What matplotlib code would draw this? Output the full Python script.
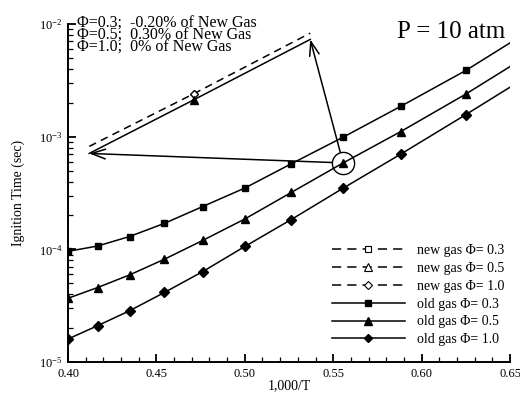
import numpy as np
import matplotlib
matplotlib.use('Agg')
import matplotlib.pyplot as plt
from matplotlib.lines import Line2D
from matplotlib.ticker import MultipleLocator, LogLocator, LogFormatterMathtext

plt.rcParams['font.family'] = ['Liberation Serif', 'DejaVu Serif']
plt.rcParams['mathtext.fontset'] = 'stix'

# 1000/T and ignition times (sec), old gas
inv_T = [0.400, 0.4167, 0.4348, 0.4545, 0.4762, 0.500, 0.5263, 0.5556, 0.5882, 0.625, 0.650]
old_03 = [9.6e-5, 1.07e-4, 1.30e-4, 1.70e-4, 2.40e-4, 3.50e-4, 5.75e-4, 9.9e-4, 1.86e-3, 3.87e-3, 6.8e-3]
old_05 = [3.68e-5, 4.58e-5, 5.93e-5, 8.17e-5, 1.20e-4, 1.86e-4, 3.2e-4, 5.85e-4, 1.11e-3, 2.39e-3, 4.19e-3]
old_10 = [1.60e-5, 2.10e-5, 2.85e-5, 4.14e-5, 6.35e-5, 1.06e-4, 1.84e-4, 3.49e-4, 7.0e-4, 1.57e-3, 2.75e-3]

# magnified view of the circled point (phi = 0.5)
inset_x = [0.412, 0.471, 0.537]
inset_new = [8.2e-4, 2.4e-3, 8.3e-3]
inset_old = [7.1e-4, 2.12e-3, 7.3e-3]
circled = (0.5556, 5.85e-4)

notes = ['Φ=0.3;  -0.20% of New Gas',
         'Φ=0.5;  0.30% of New Gas',
         'Φ=1.0;  0% of New Gas']
phis = ['0.3', '0.5', '1.0']
markers = ['s', '^', 'D']
msizes = [5, 6, 4.6]

fig = plt.figure(figsize=(5.2, 3.99), dpi=100)
ax = fig.add_axes([0.1308, 0.0927, 0.85, 0.8471])

lw = 1.1
marks = list(range(len(inv_T) - 1))
for y, m, ms in zip([old_03, old_05, old_10], markers, msizes):
    ax.plot(inv_T, y, '-', color='k', lw=lw, marker=m, ms=ms, markevery=marks)

# inset lines
ax.plot(inset_x, inset_new, color='k', lw=lw, ls=(0, (5, 3.5)), marker='D',
        ms=4.5, mfc='white', markevery=[1])
ax.plot(inset_x, inset_old, color='k', lw=lw, marker='^', ms=6, markevery=[1])

# circle and arrows
ax.plot([circled[0]], [circled[1]], 'o', ms=16, mfc='none', mec='k', mew=1.0)
for tip in [(inset_x[0], inset_old[0]), (inset_x[-1], inset_old[-1])]:
    ax.annotate('', xy=tip, xytext=circled,
                arrowprops=dict(arrowstyle='->,head_length=1.0,head_width=0.35',
                                color='k', lw=1.1, shrinkA=8, shrinkB=0))

ax.set_yscale('log')
ax.set_xlim(0.40, 0.65)
ax.set_ylim(1e-5, 1e-2)
ax.xaxis.set_major_locator(MultipleLocator(0.05))
ax.xaxis.set_minor_locator(MultipleLocator(0.01))
ax.xaxis.set_major_formatter(plt.FuncFormatter(lambda v, p: '%.2f' % v))
ax.yaxis.set_major_locator(LogLocator(base=10))
ax.yaxis.set_minor_locator(LogLocator(base=10, subs=np.arange(2, 10)))
ax.yaxis.set_major_formatter(LogFormatterMathtext())

for s in ['top', 'right']:
    ax.spines[s].set_visible(False)
for s in ['left', 'bottom']:
    ax.spines[s].set_linewidth(1.4)
ax.tick_params(which='major', direction='in', length=6, width=1.3, labelsize=9, pad=4)
ax.tick_params(which='minor', direction='in', length=3.5, width=0.9)

ax.set_xlabel('1,000/T', fontsize=10, labelpad=0)
ax.set_ylabel('Ignition Time (sec)', fontsize=10, labelpad=10)

ax.text(0.745, 0.975, 'P = 10 atm', transform=ax.transAxes, fontsize=18,
        va='center', ha='left')
fig.text(77 / 520, 1 - 16 / 399, '\n'.join(notes), fontsize=11.5,
         va='top', ha='left', linespacing=0.66)

handles = []
labels = []
for p, m, ms in zip(phis, markers, msizes):
    handles.append(Line2D([], [], color='k', lw=lw, ls=(0, (6, 4)), marker=m,
                          ms=ms - 0.5, mfc='white', mew=0.8))
    labels.append('new gas Φ= ' + p)
for p, m, ms in zip(phis, markers, msizes):
    handles.append(Line2D([], [], color='k', lw=lw, marker=m, ms=ms - 0.5))
    labels.append('old gas Φ= ' + p)
ax.legend(handles, labels, loc='lower right', bbox_to_anchor=(1.0, 0.03),
          frameon=False, fontsize=10, handlelength=5.2, handletextpad=0.9,
          labelspacing=0.35, borderaxespad=0)

fig.savefig('out.png', dpi=100)
